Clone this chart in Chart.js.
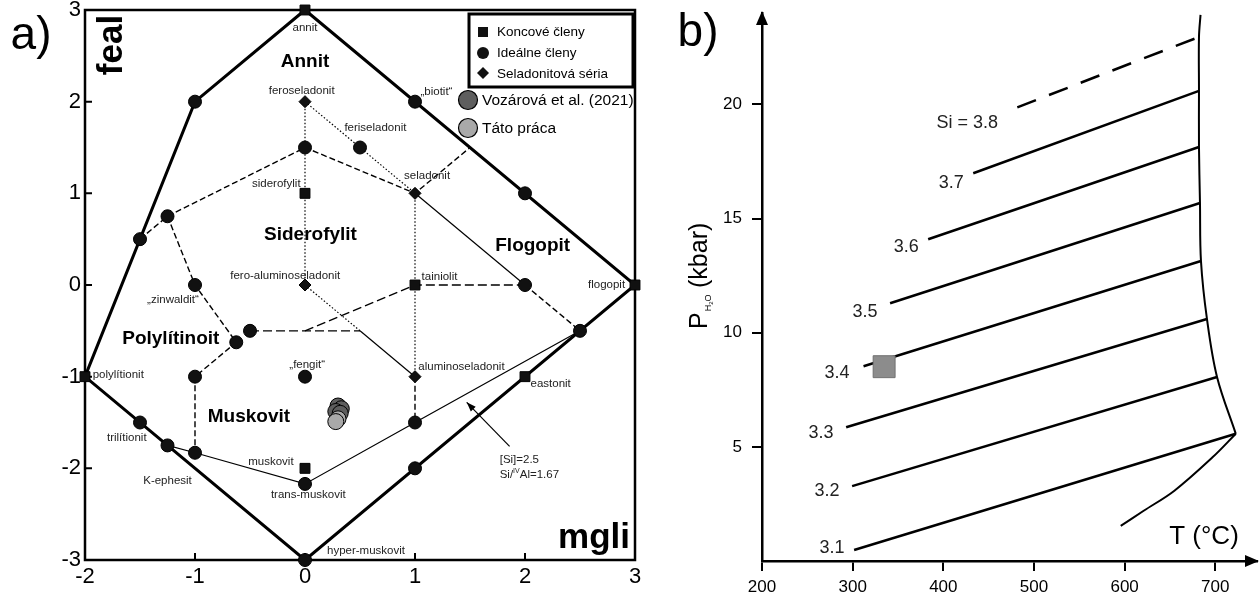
<!DOCTYPE html>
<html>
<head>
<meta charset="utf-8">
<script src="https://cdn.jsdelivr.net/npm/chart.js@4/dist/chart.umd.min.js"></script>
<style>
  body { margin: 0; background: #fff; }
  #wrap { position: relative; width: 1260px; height: 601px; }
  #chartA { position: absolute; left: 0; top: 0; }
  #chartB { position: absolute; left: 650px; top: 0; }
</style>
</head>
<body>
<div id="wrap">
  <canvas id="chartA" width="650" height="601"></canvas>
  <canvas id="chartB" width="610" height="601"></canvas>
</div>
<script>
// ---------- a) mica classification (mgli vs feal) ----------
const xTicksA = [-2, -1, 0, 1, 2, 3];
const yTicksA = [-3, -2, -1, 0, 1, 2, 3];

// Koncové členy (squares)
const endX = [0, 0, 1, 3, -2, 2, 0];
const endY = [3, 1, 0, 0, -1, -1, -2];
// Ideálne členy (circles)
const idealX = [-1, 1, 0, 0.5, 2, -1.25, -1.5, -1, 2, -0.5, -0.625, 2.5, -1, 0, 1, -1.5, -1.25, -1, 0, 1, 0];
const idealY = [2, 2, 1.5, 1.5, 1, 0.75, 0.5, 0, 0, -0.5, -0.625, -0.5, -1, -1, -1.5, -1.5, -1.75, -1.83, -2.17, -2, -3];
// Seladonitová séria (diamonds)
const selX = [0, 1, 0, 1];
const selY = [2, 1, 0, -1];
// analyses
const vozX = [0.30, 0.33, 0.28, 0.32];
const vozY = [-1.32, -1.35, -1.38, -1.40];
const tatoX = [0.30, 0.28];
const tatoY = [-1.46, -1.49];

// field boundary and tie lines
const outerX = [0, 3, 0, -2, -1, 0];
const outerY = [3, 0, -3, -1, 2, 3];
const dashedPaths = [
  [[-1.5, 0.5], [-1.25, 0.75], [0, 1.5], [1, 1], [1.5, 1.5]],
  [[-1.25, 0.75], [-1, 0], [-0.625, -0.625], [-1, -1], [-1, -1.83]],
  [[-0.5, -0.5], [0.5, -0.5]],
  [[0, -0.5], [1, 0], [2, 0]],
  [[2, 0], [2.5, -0.5]],
  [[1, -1], [1, -1.5]]
];
const dottedPaths = [
  [[0, 2], [0, 0]],
  [[0, 2], [0.5, 1.5], [1, 1]],
  [[1, 1], [1, -1]],
  [[0, 0], [0.5, -0.5]]
];
const thinPaths = [
  [[0.5, -0.5], [1, -1]],
  [[1, 1], [2, 0]],
  [[-1.25, -1.75], [-1, -1.83], [0, -2.17], [1, -1.5], [2.5, -0.5]]
];
const arrowX = [1.86, 1.47];
const arrowY = [-1.76, -1.28];

// member names
const nameText = ['annit', 'feroseladonit', '„biotit“', 'feriseladonit', 'seladonit', 'siderofylit',
  'fero-aluminoseladonit', 'tainiolit', 'flogopit', '„zinwaldit“', 'polylítionit', '„fengit“',
  'aluminoseladonit', 'eastonit', 'trilítionit', 'muskovit', 'K-ephesit', 'trans-muskovit', 'hyper-muskovit'];
const nameX = [0, -0.03, 1.05, 0.64, 1.11, -0.04, -0.18, 1.06, 2.91, -1.2, -1.93, 0.02, 1.03, 2.05, -1.62, -0.31, -1.25, 0.03, 0.2];
const nameY = [2.81, 2.12, 2.11, 1.71, 1.19, 1.1, 0.1, 0.09, 0.0, -0.16, -0.98, -0.87, -0.89, -1.08, -1.67, -1.93, -2.14, -2.29, -2.9];
const nameAlign = ['center', 'center', 'left', 'center', 'center', 'right', 'center', 'left', 'right', 'center',
  'left', 'center', 'left', 'left', 'center', 'center', 'center', 'center', 'left'];

// field names
const fieldText = ['Annit', 'Siderofylit', 'Flogopit', 'Polylítinoit', 'Muskovit'];
const fieldX = [0, 0.05, 2.07, -1.22, -0.51];
const fieldY = [2.44, 0.55, 0.43, -0.59, -1.44];

// ---------- b) Si isopleths ----------
const xTicksB = [200, 300, 400, 500, 600, 700];
const yTicksB = [5, 10, 15, 20];
const siLabels = ['3.1', '3.2', '3.3', '3.4', '3.5', '3.6', '3.7', 'Si = 3.8'];
const siT0 = [301.6, 299.4, 292.8, 312, 341.3, 383.3, 433, 481.6];
const siP0 = [0.48, 3.28, 5.86, 8.53, 11.29, 14.09, 16.98, 19.87];
const siT1 = [722.6, 701.9, 690.8, 684.2, 683.1, 682, 682, 682];
const siP1 = [5.57, 8.06, 10.6, 13.14, 15.68, 18.13, 20.59, 22.95];
const siLabelT = [277.3, 271.8, 265.1, 282.8, 313.7, 359, 408.7, 426.4];
const siLabelP = [0.57, 3.06, 5.6, 8.23, 10.9, 13.74, 16.54, 19.17];
const upperT = [683.7, 682, 682, 682, 683.1, 684.2, 690.8, 701.9, 722.6];
const upperP = [23.92, 22.95, 20.59, 18.13, 15.68, 13.14, 10.6, 8.06, 5.57];
const lowerT = [722.6, 697.2, 654.9, 621, 595.7];
const lowerP = [5.57, 4.55, 3.08, 2.2, 1.54];
const sampleT = [334.7];
const sampleP = [8.51];

// ---------- helpers ----------
const SANS = "'Liberation Sans', Arial, sans-serif";
const NARROW = "'Liberation Sans Narrow', 'Liberation Sans', Arial, sans-serif";
Chart.defaults.font.family = SANS;
Chart.defaults.color = '#000';

const pts = (xs, ys) => xs.map((x, i) => ({ x: x, y: ys[i] }));
const pathPts = (path) => path.map(p => ({ x: p[0], y: p[1] }));

function lineSet(data, width, dash, order) {
  return {
    data: data, showLine: true, borderColor: '#000', borderWidth: width, borderDash: dash,
    pointRadius: 0, fill: false, tension: 0, order: order, clip: false
  };
}

function markerSet(data, style, radius, fill, order) {
  return {
    data: data, showLine: false, pointStyle: style, pointRadius: radius,
    backgroundColor: fill, borderColor: '#000', borderWidth: 1, order: order, clip: false
  };
}

// keep the chart area exactly where the layout padding puts it
const noPadX = s => { s.paddingLeft = 0; s.paddingRight = 0; };
const noPadY = s => { s.paddingTop = 0; s.paddingBottom = 0; };

// ---------- plugin a) ----------
const panelA = {
  id: 'panelA',
  beforeDatasetsDraw(chart) {
    const { ctx, chartArea: a, scales: { x, y } } = chart;
    ctx.save();
    ctx.strokeStyle = '#000';
    ctx.lineWidth = 2.5;
    ctx.strokeRect(a.left, a.top, a.right - a.left, a.bottom - a.top);
    ctx.lineWidth = 2;
    ctx.beginPath();
    xTicksA.forEach(v => {
      const px = x.getPixelForValue(v);
      ctx.moveTo(px, a.bottom); ctx.lineTo(px, a.bottom - 7);
    });
    yTicksA.forEach(v => {
      const py = y.getPixelForValue(v);
      ctx.moveTo(a.left, py); ctx.lineTo(a.left + 7, py);
    });
    ctx.stroke();
    ctx.restore();
  },
  afterDraw(chart) {
    const { ctx, scales: { x, y } } = chart;
    ctx.save();
    ctx.fillStyle = '#000';
    ctx.strokeStyle = '#000';

    // arrow head
    const ax = x.getPixelForValue(arrowX[1]), ay = y.getPixelForValue(arrowY[1]);
    const bx = x.getPixelForValue(arrowX[0]), by = y.getPixelForValue(arrowY[0]);
    const ang = Math.atan2(ay - by, ax - bx);
    ctx.beginPath();
    ctx.moveTo(ax, ay);
    ctx.lineTo(ax - 10 * Math.cos(ang - 0.35), ay - 10 * Math.sin(ang - 0.35));
    ctx.lineTo(ax - 10 * Math.cos(ang + 0.35), ay - 10 * Math.sin(ang + 0.35));
    ctx.closePath();
    ctx.fill();

    // member names
    ctx.font = '11.5px ' + SANS;
    ctx.textBaseline = 'middle';
    ctx.fillStyle = '#222';
    nameText.forEach((t, i) => {
      ctx.textAlign = nameAlign[i];
      ctx.fillText(t, x.getPixelForValue(nameX[i]), y.getPixelForValue(nameY[i]));
    });

    // [Si]=2.5 note
    ctx.textAlign = 'left';
    const nx = x.getPixelForValue(1.77);
    ctx.fillText('[Si]=2.5', nx, y.getPixelForValue(-1.91));
    const ny = y.getPixelForValue(-2.07);
    ctx.fillText('Si/', nx, ny);
    const w = ctx.measureText('Si/').width;
    ctx.font = '7px ' + SANS;
    ctx.fillText('IV', nx + w, ny - 4);
    const w2 = ctx.measureText('IV').width;
    ctx.font = '11.5px ' + SANS;
    ctx.fillText('Al=1.67', nx + w + w2, ny);

    // field names
    ctx.fillStyle = '#000';
    ctx.font = 'bold 19px ' + SANS;
    ctx.textAlign = 'center';
    fieldText.forEach((t, i) => {
      ctx.fillText(t, x.getPixelForValue(fieldX[i]), y.getPixelForValue(fieldY[i]));
    });

    // axis names
    ctx.font = 'bold 35px ' + SANS;
    ctx.textAlign = 'right';
    ctx.textBaseline = 'alphabetic';
    ctx.fillText('mgli', 630, 548);
    ctx.save();
    ctx.translate(122, 45);
    ctx.rotate(-Math.PI / 2);
    ctx.textAlign = 'center';
    ctx.fillText('feal', 0, 0);
    ctx.restore();

    // panel letter
    ctx.font = '46px ' + SANS;
    ctx.textAlign = 'center';
    ctx.textBaseline = 'middle';
    ctx.fillText('a)', 31, 36);

    // legend
    ctx.lineWidth = 3;
    ctx.strokeRect(469, 14, 164, 73);
    ctx.fillStyle = '#111';
    ctx.fillRect(478, 27, 10, 10);
    ctx.beginPath(); ctx.arc(483, 53, 6, 0, Math.PI * 2); ctx.fill();
    ctx.beginPath();
    ctx.moveTo(483, 67); ctx.lineTo(489, 73); ctx.lineTo(483, 79); ctx.lineTo(477, 73);
    ctx.closePath(); ctx.fill();
    ctx.fillStyle = '#000';
    ctx.font = '13.5px ' + SANS;
    ctx.textAlign = 'left';
    ctx.fillText('Koncové členy', 497, 32);
    ctx.fillText('Ideálne členy', 497, 53);
    ctx.fillText('Seladonitová séria', 497, 74);

    ctx.lineWidth = 1.2;
    ctx.fillStyle = '#5e5e5e';
    ctx.beginPath(); ctx.arc(468, 100, 9.5, 0, Math.PI * 2); ctx.fill(); ctx.stroke();
    ctx.fillStyle = '#a9a9a9';
    ctx.beginPath(); ctx.arc(468, 128, 9.5, 0, Math.PI * 2); ctx.fill(); ctx.stroke();
    ctx.fillStyle = '#000';
    ctx.font = '15.5px ' + SANS;
    ctx.fillText('Vozárová et al. (2021)', 482, 101);
    ctx.fillText('Táto práca', 482, 129);
    ctx.restore();
  }
};

const datasetsA = [
  markerSet(pts(tatoX, tatoY), 'circle', 8, '#a9a9a9', 1),
  markerSet(pts(vozX, vozY), 'circle', 8, '#5e5e5e', 2),
  markerSet(pts(endX, endY), 'rect', 7, '#111', 3),
  markerSet(pts(idealX, idealY), 'circle', 6.5, '#111', 3),
  markerSet(pts(selX, selY), 'rectRot', 6, '#111', 3),
  lineSet(pts(outerX, outerY), 3, [], 5),
  lineSet(pts(arrowX, arrowY), 1.2, [], 5)
];
dashedPaths.forEach((p, i) => datasetsA.push(lineSet(pathPts(p), 1.4, i === 2 || i === 3 ? [9, 4] : [6, 3], 6)));
dottedPaths.forEach(p => datasetsA.push(lineSet(pathPts(p), 1.2, [1.5, 2], 6)));
thinPaths.forEach(p => datasetsA.push(lineSet(pathPts(p), 1.2, [], 6)));

new Chart(document.getElementById('chartA'), {
  type: 'scatter',
  data: { datasets: datasetsA },
  options: {
    responsive: false,
    animation: false,
    layout: { autoPadding: false, padding: { top: 10, right: 15, left: 0, bottom: 0 } },
    plugins: { legend: { display: false }, tooltip: { enabled: false } },
    scales: {
      x: {
        type: 'linear', min: -2, max: 3,
        afterBuildTicks: s => { s.ticks = xTicksA.map(v => ({ value: v })); },
        afterFit: s => { s.height = 41; noPadX(s); },
        grid: { display: false, drawTicks: false },
        border: { display: false },
        ticks: { font: { family: NARROW, size: 22 }, color: '#000', padding: 4, maxRotation: 0, autoSkip: false }
      },
      y: {
        type: 'linear', min: -3, max: 3,
        afterBuildTicks: s => { s.ticks = yTicksA.map(v => ({ value: v })); },
        afterFit: s => { s.width = 85; noPadY(s); },
        grid: { display: false, drawTicks: false },
        border: { display: false },
        ticks: { font: { family: NARROW, size: 22 }, color: '#000', padding: 4, autoSkip: false }
      }
    }
  },
  plugins: [panelA]
});

// ---------- plugin b) ----------
const panelB = {
  id: 'panelB',
  afterDraw(chart) {
    const { ctx, chartArea: a, scales: { x, y } } = chart;
    ctx.save();
    ctx.fillStyle = '#000';
    // axis arrows
    ctx.beginPath();
    ctx.moveTo(a.left, a.top - 2); ctx.lineTo(a.left - 6, a.top + 12); ctx.lineTo(a.left + 6, a.top + 12);
    ctx.closePath(); ctx.fill();
    ctx.beginPath();
    ctx.moveTo(a.right + 2, a.bottom); ctx.lineTo(a.right - 12, a.bottom - 6); ctx.lineTo(a.right - 12, a.bottom + 6);
    ctx.closePath(); ctx.fill();

    // isopleth labels
    ctx.fillStyle = '#222';
    ctx.font = '18px ' + SANS;
    ctx.textAlign = 'center';
    ctx.textBaseline = 'middle';
    siLabels.forEach((t, i) => {
      ctx.fillText(t, x.getPixelForValue(siLabelT[i]), y.getPixelForValue(siLabelP[i]));
    });

    // axis titles
    ctx.fillStyle = '#000';
    ctx.font = '26px ' + SANS;
    ctx.fillText('T (°C)', 554, 537);

    ctx.save();
    ctx.translate(57, 329);
    ctx.rotate(-Math.PI / 2);
    ctx.textAlign = 'left';
    ctx.textBaseline = 'alphabetic';
    ctx.font = '25px ' + SANS;
    ctx.fillText('P', 0, 0);
    const w = ctx.measureText('P').width;
    ctx.font = '9px ' + SANS;
    ctx.fillText('H', w + 1, 4);
    const w2 = ctx.measureText('H').width;
    ctx.font = '6px ' + SANS;
    ctx.fillText('2', w + 1 + w2, 6);
    const w3 = ctx.measureText('2').width;
    ctx.font = '9px ' + SANS;
    ctx.fillText('O', w + 1 + w2 + w3, 4);
    ctx.font = '25px ' + SANS;
    ctx.fillText('(kbar)', 41, 0);
    ctx.restore();

    // panel letter
    ctx.font = '46px ' + SANS;
    ctx.textAlign = 'center';
    ctx.fillText('b)', 48, 33);
    ctx.restore();
  }
};

const datasetsB = [
  {
    data: pts(sampleT, sampleP), showLine: false, pointStyle: 'rect', pointRadius: 15.5,
    backgroundColor: '#8c8c8c', borderColor: '#707070', borderWidth: 1, order: 1, clip: false
  },
  Object.assign(lineSet(pts(upperT, upperP), 2, [], 4), { tension: 0.35 }),
  Object.assign(lineSet(pts(lowerT, lowerP), 2, [], 4), { tension: 0.35 })
];
siLabels.forEach((s, i) => {
  datasetsB.push(lineSet([{ x: siT0[i], y: siP0[i] }, { x: siT1[i], y: siP1[i] }], 2.5, i === 7 ? [20, 14] : [], 3));
});

new Chart(document.getElementById('chartB'), {
  type: 'scatter',
  data: { datasets: datasetsB },
  options: {
    responsive: false,
    animation: false,
    layout: { autoPadding: false, padding: { top: 13, right: 3, left: 0, bottom: 0 } },
    plugins: { legend: { display: false }, tooltip: { enabled: false } },
    scales: {
      x: {
        type: 'linear', min: 200, max: 746,
        afterBuildTicks: s => { s.ticks = xTicksB.map(v => ({ value: v })); },
        afterFit: s => { s.height = 40; noPadX(s); },
        grid: { display: true, drawOnChartArea: false, drawTicks: true, tickLength: 10, color: '#000', lineWidth: 2 },
        border: { display: true, color: '#000', width: 2.5 },
        ticks: { font: { family: NARROW, size: 17 }, color: '#000', padding: 6, maxRotation: 0, autoSkip: false }
      },
      y: {
        type: 'linear', min: 0, max: 24,
        afterBuildTicks: s => { s.ticks = yTicksB.map(v => ({ value: v })); },
        afterFit: s => { s.width = 112; noPadY(s); },
        grid: { display: true, drawOnChartArea: false, drawTicks: true, tickLength: 10, color: '#000', lineWidth: 2 },
        border: { display: true, color: '#000', width: 2.5 },
        ticks: { font: { family: NARROW, size: 17 }, color: '#000', padding: 10, autoSkip: false }
      }
    }
  },
  plugins: [panelB]
});
</script>
</body>
</html>
